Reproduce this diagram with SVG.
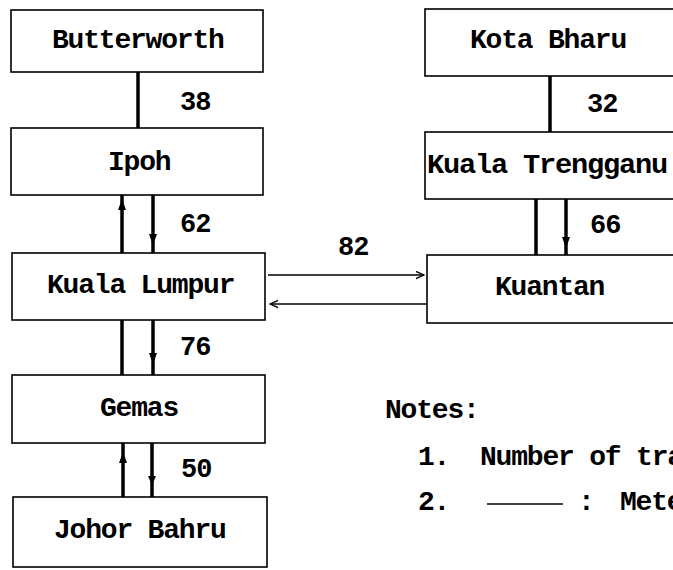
<svg xmlns="http://www.w3.org/2000/svg" width="673" height="570" viewBox="0 0 673 570">
<defs>
<marker id="ah" viewBox="0 0 10 10" refX="9" refY="5" markerWidth="9" markerHeight="9" markerUnits="userSpaceOnUse" orient="auto">
<path d="M0,1 L9,5 L0,9" fill="none" stroke="#000" stroke-width="1.5"/>
</marker>
</defs>
<style>
.box{fill:#fff;stroke:#000;stroke-width:1.6}
.lbl{font-family:"Liberation Mono","DejaVu Sans Mono",monospace;font-weight:bold;font-size:28px;letter-spacing:-1.2px;fill:#000}
.num{font-family:"Liberation Mono","DejaVu Sans Mono",monospace;font-weight:bold;font-size:27px;letter-spacing:-1px;fill:#000}
.vc{stroke:#000;stroke-width:3.5;fill:none}
.hc{stroke:#000;stroke-width:1.3;fill:none}
.tip{fill:#000}
</style>
<g id="connectors">
<line class="vc" x1="138" y1="72" x2="138" y2="128"/>
<line class="vc" x1="122" y1="195" x2="122" y2="253"/>
<path class="tip" d="M122,199 L118,210 L126,210 Z"/>
<line class="vc" x1="153" y1="195" x2="153" y2="253"/>
<path class="tip" d="M153,245 L149,234 L157,234 Z"/>
<line class="vc" x1="122" y1="320" x2="122" y2="375"/>
<line class="vc" x1="153" y1="320" x2="153" y2="375"/>
<path class="tip" d="M153,364 L149,353 L157,353 Z"/>
<line class="vc" x1="123" y1="443" x2="123" y2="497"/>
<path class="tip" d="M123,452 L119,463 L127,463 Z"/>
<line class="vc" x1="152" y1="443" x2="152" y2="497"/>
<path class="tip" d="M152,485 L148,476 L156,476 Z"/>
<line class="vc" x1="550" y1="76" x2="550" y2="132"/>
<line class="vc" x1="536" y1="199" x2="536" y2="255"/>
<line class="vc" x1="566" y1="199" x2="566" y2="255"/>
<path class="tip" d="M566,248 L562,237 L570,237 Z"/>
<line class="hc" x1="268" y1="275" x2="424" y2="275" marker-end="url(#ah)"/>
<line class="hc" x1="426" y1="304" x2="270" y2="304" marker-end="url(#ah)"/>
<text class="num" x="180" y="110">38</text>
<text class="num" x="180" y="232">62</text>
<text class="num" x="180" y="355">76</text>
<text class="num" x="181" y="477">50</text>
<text class="num" x="587" y="112">32</text>
<text class="num" x="590" y="233">66</text>
<text class="num" x="338" y="255">82</text>
</g>
<g id="butterworth">
<rect class="box" x="11" y="10" width="252" height="62"/>
<text class="lbl" x="52" y="48">Butterworth</text>
</g>
<g id="ipoh">
<rect class="box" x="11" y="128" width="252" height="67"/>
<text class="lbl" x="108" y="170">Ipoh</text>
</g>
<g id="kuala-lumpur">
<rect class="box" x="12" y="253" width="253" height="67"/>
<text class="lbl" x="47" y="293">Kuala Lumpur</text>
</g>
<g id="gemas">
<rect class="box" x="12" y="375" width="253" height="68"/>
<text class="lbl" x="100" y="416">Gemas</text>
</g>
<g id="johor-bahru">
<rect class="box" x="13" y="497" width="254" height="70"/>
<text class="lbl" x="54" y="538">Johor Bahru</text>
</g>
<g id="kota-bharu">
<rect class="box" x="425" y="9" width="260" height="67"/>
<text class="lbl" x="470" y="48">Kota Bharu</text>
</g>
<g id="kuala-trengganu">
<rect class="box" x="425" y="132" width="260" height="67"/>
<text class="lbl" x="427" y="173" textLength="240" lengthAdjust="spacingAndGlyphs">Kuala Trengganu</text>
</g>
<g id="kuantan">
<rect class="box" x="427" y="255" width="260" height="68"/>
<text class="lbl" x="495" y="295">Kuantan</text>
</g>
<g id="notes">
<text class="lbl" x="385" y="418">Notes:</text>
<text class="lbl" x="418" y="465">1.</text>
<text class="lbl" x="480" y="465">Number of tra</text>
<text class="lbl" x="418" y="510">2.</text>
<line x1="487" y1="504" x2="563" y2="504" stroke="#000" stroke-width="1.3"/>
<text class="lbl" x="578" y="510">:</text>
<text class="lbl" x="620" y="510">Mete</text>
</g>
</svg>
